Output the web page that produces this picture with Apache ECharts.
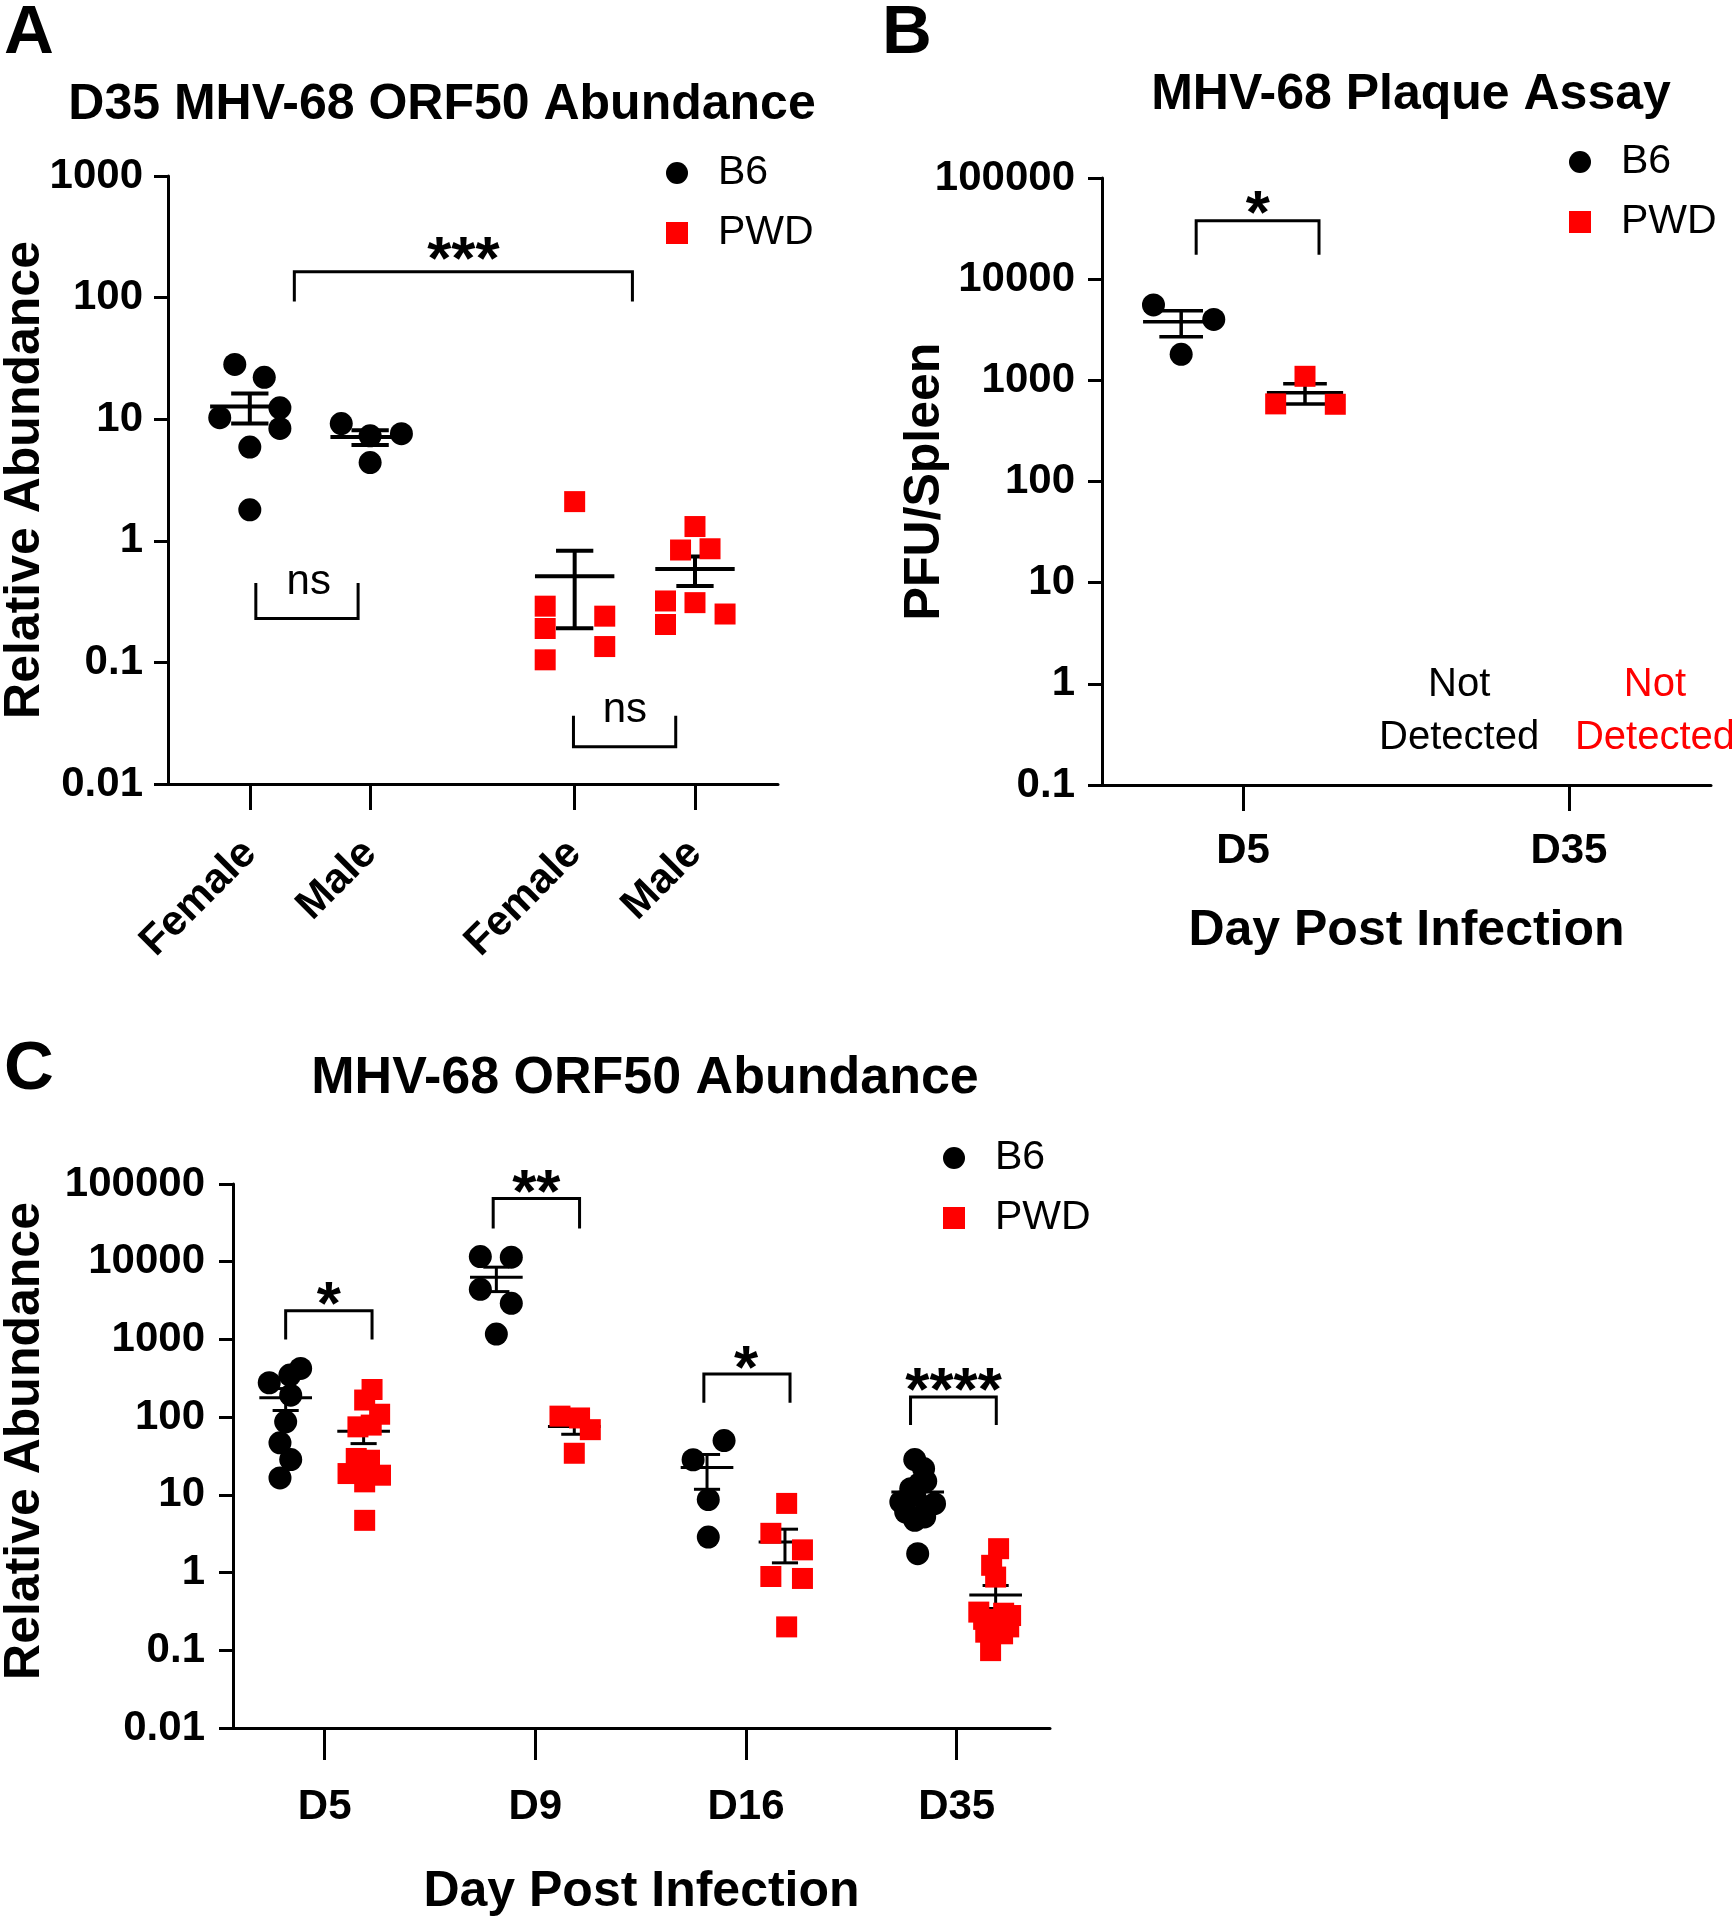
<!DOCTYPE html>
<html><head><meta charset="utf-8">
<script src="https://cdn.jsdelivr.net/npm/echarts@6/dist/echarts.min.js"></script>
<style>html,body{margin:0;padding:0;background:#fff}#c{width:1732px;height:1920px}</style>
</head><body><div id="c"></div>
<script>
// ================= DATA =================
// Panel A: D35 MHV-68 ORF50 relative abundance, by strain and sex
const catsA = ['Female', 'Male', 'Female', 'Male'];
const a_B6_female  = [28.2, 22.1, 12.4, 10.3, 8.4, 5.9, 1.8];
const a_B6_male    = [9.2, 7.3, 7.6, 4.4];
const a_PWD_female = [2.1, 0.29, 0.19, 0.105, 0.24, 0.135];
const a_PWD_male   = [1.31, 0.84, 0.86, 0.32, 0.31, 0.25, 0.205];
const ticksA = ['0.01', '0.1', '1', '10', '100', '1000'];
const sigA = ['***', 'ns', 'ns'];

// Panel B: plaque assay, PFU/spleen
const daysB = ['D5', 'D35'];
const b_B6_D5  = [5560, 4000, 1810];
const b_PWD_D5 = [1096, 585, 580];
const ticksB = ['0.1', '1', '10', '100', '1000', '10000', '100000'];
const sigB = ['*'];
const notDetected = 'Not\nDetected';

// Panel C: ORF50 abundance over time
const daysC = ['D5', 'D9', 'D16', 'D35'];
const c_B6_D5   = [424, 348, 277, 192, 87, 46.7, 28.5, 16.5];
const c_B6_D9   = [11640, 11430, 4420, 2920, 1174];
const c_B6_D16  = [49.9, 28.3, 8.7, 2.86];
const c_B6_D35  = [28.5, 21.8, 14, 15, 12, 9.9, 8.1, 7.7, 7, 6, 5.2, 4.7, 1.75];
const c_PWD_D5  = [227, 166, 109, 75, 79, 29.4, 27.9, 18.8, 17.9, 14.7, 4.7, 20.7];
const c_PWD_D9  = [103, 97.6, 69, 34.3];
const c_PWD_D16 = [7.76, 3.2, 1.96, 0.89, 0.84, 0.20];
const c_PWD_D35 = [2.03, 1.24, 0.875, 0.31, 0.28, 0.242, 0.171, 0.163, 0.099, 0.2, 0.25, 0.3];
const ticksC = ['0.01', '0.1', '1', '10', '100', '1000', '10000', '100000'];
const sigC = ['*', '**', '*', '****'];

// ================= LAYOUT / STYLE =================
const FONT = "'Liberation Sans', Arial, Helvetica, sans-serif";
const RED = '#ff0000', BLK = '#000000';
const posA = [0, 1, 2.7, 3.7];              // category centres on panel A x axis
const offB6 = -0.19, offPWD = 0.19;          // strain offsets within a day (B)
const offC = 0.185;                          // strain offsets within a day (C)
// horizontal scatter (jitter) of the dots, in axis units
const jitA = [[-0.125, 0.12, 0.25, -0.25, 0.25, 0, 0], [-0.24, 0, 0.26, 0],
              [0, -0.245, -0.245, -0.245, 0.25, 0.25], [0, -0.12, 0.125, -0.245, 0, 0.25, -0.245]];
const jitB = [[-0.085, 0.10, 0], [0, -0.09, 0.093]];
const jitC_B6 = [[0.071, 0.02, -0.078, 0.024, 0, -0.027, 0.024, -0.027], [-0.076, 0.071, -0.076, 0.071, 0],
                 [0.081, -0.066, 0.006, 0.006], [-0.014, 0.028, 0.01, 0.038, -0.033, -0.014, -0.08, 0.08, 0.043, -0.057, 0.033, -0.014, 0]];
const jitC_P = [[0.04, 0.005, 0.076, -0.027, 0.036, -0.035, 0.028, -0.074, 0.08, 0.005, 0.005, -0.019], [-0.068, 0.025, 0.076, 0],
                [0.008, -0.067, 0.083, -0.067, 0.083, 0.008], [0.014, -0.019, 0, -0.08, 0.071, -0.014, -0.047, 0.033, -0.024, 0.062, -0.057, 0.038]];

// significance brackets (axis units) and label placement
const STAR = 62;
const annA = [
  {x1: 0.37, x2: 3.18, y: 163, leg: 93, tx: 1.775, ty: 255, text: sigA[0], kind: 'star', size: STAR},
  {x1: 0.05, x2: 0.90, y: 0.23, leg: 0.45, tx: 0.49, ty: 0.458, text: sigA[1], kind: 'low', size: 42},
  {x1: 2.69, x2: 3.54, y: 0.0202, leg: 0.0365, tx: 3.117, ty: 0.0403, text: sigA[2], kind: 'low', size: 42}
];
const annB = [
  {x1: -0.144, x2: 0.233, y: 37700, leg: 17400, tx: 0.045, ty: 57700, text: sigB[0], kind: 'star', size: STAR},
  {tx: 0.663, ty: 0.53, text: notDetected, kind: 'nd', size: 40, color: BLK},
  {tx: 1.264, ty: 0.53, text: notDetected, kind: 'nd', size: 40, color: RED}
];
const annC = [
  {x1: -0.185, x2: 0.225, y: 2344, leg: 1000, tx: 0.02, ty: 4020, text: sigC[0], kind: 'star', size: STAR},
  {x1: 0.80, x2: 1.21, y: 65200, leg: 26800, tx: 1.005, ty: 110000, text: sigC[1], kind: 'star', size: STAR},
  {x1: 1.80, x2: 2.209, y: 359, leg: 153, tx: 2.0, ty: 599, text: sigC[2], kind: 'star', size: STAR},
  {x1: 2.781, x2: 3.188, y: 182, leg: 79, tx: 2.985, ty: 310, text: sigC[3], kind: 'star', size: STAR}
];

// ================= HELPERS =================
function mean(a) { return a.reduce((s, v) => s + v, 0) / a.length; }
function sem(a) { const m = mean(a); const v = a.reduce((s, x) => s + (x - m) * (x - m), 0) / (a.length - 1); return Math.sqrt(v / a.length); }
function pts(vals, centre, jit) { return vals.map((v, i) => [centre + jit[i], v]); }
function logFmt(labels, minExp) { return v => labels[Math.round(Math.log10(v)) - minExp]; }

function scatter(name, gi, data) {
  const isB6 = name === 'B6';
  return {type: 'scatter', name, xAxisIndex: gi, yAxisIndex: gi, data, z: 3,
    symbol: isB6 ? 'circle' : 'rect', symbolSize: isB6 ? 23 : 21,
    itemStyle: {color: isB6 ? BLK : RED, opacity: 1}, emphasis: {disabled: true}, silent: true};
}

function errSeries(gi, groups, meanHalf, capHalf, lw) {
  const data = groups.map(g => { const m = mean(g.v), s = sem(g.v); return [g.c, m, m - s, m + s]; });
  return {type: 'custom', xAxisIndex: gi, yAxisIndex: gi, data, z: 2, silent: true,
    renderItem: (params, api) => {
      const c = api.value(0), m = api.value(1), lo = Math.max(api.value(2), 1e-9), hi = api.value(3);
      const pm = api.coord([c, m]), pl = api.coord([c, lo]), ph = api.coord([c, hi]);
      const w1 = api.coord([c + meanHalf, m])[0] - pm[0];
      const w2 = api.coord([c + capHalf, m])[0] - pm[0];
      const st = {stroke: BLK, lineWidth: lw};
      return {type: 'group', children: [
        {type: 'line', shape: {x1: pm[0] - w1, y1: pm[1], x2: pm[0] + w1, y2: pm[1]}, style: st},
        {type: 'line', shape: {x1: pl[0], y1: pl[1], x2: ph[0], y2: ph[1]}, style: st},
        {type: 'line', shape: {x1: pl[0] - w2, y1: pl[1], x2: pl[0] + w2, y2: pl[1]}, style: st},
        {type: 'line', shape: {x1: ph[0] - w2, y1: ph[1], x2: ph[0] + w2, y2: ph[1]}, style: st}
      ]};
    }};
}

function annSeries(gi, items) {
  return {type: 'custom', xAxisIndex: gi, yAxisIndex: gi, z: 4, silent: true,
    data: items.map(a => [a.tx, a.ty]),
    renderItem: (params, api) => {
      const a = items[params.dataIndex];
      const ch = [];
      if (a.x1 != null) {
        const p1 = api.coord([a.x1, a.leg]), p2 = api.coord([a.x1, a.y]);
        const p3 = api.coord([a.x2, a.y]), p4 = api.coord([a.x2, a.leg]);
        ch.push({type: 'polyline', shape: {points: [p1, p2, p3, p4]}, style: {stroke: BLK, lineWidth: 3, fill: null}});
      }
      const pt = api.coord([a.tx, a.ty]);
      const shift = a.kind === 'star' ? 0.227 : 0;
      ch.push({type: 'text', style: {text: a.text, x: pt[0], y: pt[1] + shift * a.size,
        fill: a.color || BLK, fontSize: a.size, fontFamily: FONT,
        fontWeight: a.kind === 'star' ? 'bold' : 'normal',
        lineHeight: a.kind === 'nd' ? 53 : a.size, align: 'center', verticalAlign: 'middle'}});
      return {type: 'group', children: ch};
    }};
}

const axisLineStyle = {color: BLK, width: 3};
function yAxis(gi, min, max, labels, minExp, name, nameGap, margin, namePad) {
  return {type: 'log', logBase: 10, gridIndex: gi, min, max, name, nameLocation: 'middle', nameGap,
    nameMoveOverlap: false,
    nameTextStyle: {fontSize: 50, fontWeight: 'bold', fontFamily: FONT, color: BLK, lineHeight: 50, padding: namePad || 0},
    axisLine: {show: true, onZero: false, lineStyle: axisLineStyle},
    axisTick: {show: true, length: 14, lineStyle: {color: BLK, width: 3}},
    axisLabel: {fontSize: 42, fontWeight: 'bold', fontFamily: FONT, color: BLK, margin, formatter: logFmt(labels, minExp)},
    splitLine: {show: false}, minorTick: {show: false}};
}
function xAxis(gi, min, max, positions, labels, opts) {
  return Object.assign({type: 'value', gridIndex: gi, min, max, nameMoveOverlap: false,
    axisLine: {show: true, onZero: false, lineStyle: axisLineStyle},
    axisTick: {show: true, length: opts.tick, customValues: positions, lineStyle: {color: BLK, width: 3}},
    axisLabel: {customValues: positions, fontSize: 42, fontWeight: 'bold', fontFamily: FONT, color: BLK,
      lineHeight: 42, margin: opts.margin, rotate: opts.rotate || 0,
      formatter: v => labels[positions.findIndex(p => Math.abs(p - v) < 1e-6)]},
    splitLine: {show: false}}, opts.extra || {});
}
function legend(left, top) {
  return {data: ['B6', 'PWD'], orient: 'vertical', left, top, itemWidth: 22, itemHeight: 22, itemGap: 18,
    selectedMode: false, padding: 0,
    textStyle: {fontSize: 41, fontFamily: FONT, color: BLK, lineHeight: 42, padding: [0, 0, 0, 25]}};
}
function title(text, x, top, size, align) {
  return {text, left: x, top, textAlign: align, padding: 0,
    textStyle: {fontSize: size, fontWeight: 'bold', fontFamily: FONT, color: BLK, lineHeight: size}};
}
const xNameStyle = {fontSize: 50, fontWeight: 'bold', fontFamily: FONT, color: BLK, lineHeight: 50};

// ================= CHART =================
const chart = echarts.init(document.getElementById('c'), null, {renderer: 'canvas'});
const option = {
  animation: false,
  backgroundColor: '#ffffff',
  title: [
    title('A', 4, -1, 69, 'left'),
    title('B', 882, -1, 69, 'left'),
    title('C', 4, 1035, 69, 'left'),
    title('D35 MHV-68 ORF50 Abundance', 442, 80, 50, 'center'),
    title('MHV-68 Plaque Assay', 1411, 70, 50, 'center'),
    title('MHV-68 ORF50 Abundance', 645, 1053, 52, 'center')
  ],
  legend: [legend(666, 152), legend(1569, 141), legend(943, 1137)],
  grid: [
    {left: 168, top: 176, width: 610, height: 608, outerBoundsMode: 'none', containLabel: false},
    {left: 1102, top: 178, width: 609, height: 607, outerBoundsMode: 'none', containLabel: false},
    {left: 233, top: 1184, width: 817, height: 544, outerBoundsMode: 'none', containLabel: false}
  ],
  xAxis: [
    xAxis(0, -0.68, 4.39, posA, catsA, {tick: 26, margin: 63, rotate: 45}),
    xAxis(1, -0.433, 1.436, [0, 1], daysB, {tick: 26, margin: 45, extra: {name: 'Day Post Infection', nameLocation: 'middle', nameGap: 121, nameTextStyle: xNameStyle}}),
    xAxis(2, -0.435, 3.443, [0, 1, 2, 3], daysC, {tick: 32, margin: 58, extra: {name: 'Day Post Infection', nameLocation: 'middle', nameGap: 139, nameTextStyle: xNameStyle}})
  ],
  yAxis: [
    yAxis(0, 0.01, 1000, ticksA, -2, 'Relative Abundance', 118, 25),
    yAxis(1, 0.1, 100000, ticksB, -1, 'PFU/Spleen', 152, 27),
    yAxis(2, 0.01, 100000, ticksC, -2, 'Relative Abundance', 183, 28, [0, 0, 0, 30])
  ],
  series: [
    // Panel A
    errSeries(0, [{c: posA[0], v: a_B6_female}, {c: posA[1], v: a_B6_male}, {c: posA[2], v: a_PWD_female}, {c: posA[3], v: a_PWD_male}], 0.33, 0.155, 4),
    scatter('B6', 0, pts(a_B6_female, posA[0], jitA[0]).concat(pts(a_B6_male, posA[1], jitA[1]))),
    scatter('PWD', 0, pts(a_PWD_female, posA[2], jitA[2]).concat(pts(a_PWD_male, posA[3], jitA[3]))),
    annSeries(0, annA),
    // Panel B
    errSeries(1, [{c: offB6, v: b_B6_D5}, {c: offPWD, v: b_PWD_D5}], 0.117, 0.067, 3.5),
    scatter('B6', 1, pts(b_B6_D5, offB6, jitB[0])),
    scatter('PWD', 1, pts(b_PWD_D5, offPWD, jitB[1])),
    annSeries(1, annB),
    // Panel C
    errSeries(2, [c_B6_D5, c_B6_D9, c_B6_D16, c_B6_D35].map((v, i) => ({c: i - offC, v}))
      .concat([c_PWD_D5, c_PWD_D9, c_PWD_D16, c_PWD_D35].map((v, i) => ({c: i + offC, v}))), 0.125, 0.062, 3),
    scatter('B6', 2, [c_B6_D5, c_B6_D9, c_B6_D16, c_B6_D35].reduce((acc, v, i) => acc.concat(pts(v, i - offC, jitC_B6[i])), [])),
    scatter('PWD', 2, [c_PWD_D5, c_PWD_D9, c_PWD_D16, c_PWD_D35].reduce((acc, v, i) => acc.concat(pts(v, i + offC, jitC_P[i])), [])),
    annSeries(2, annC)
  ]
};
chart.setOption(option);
</script>
</body></html>
